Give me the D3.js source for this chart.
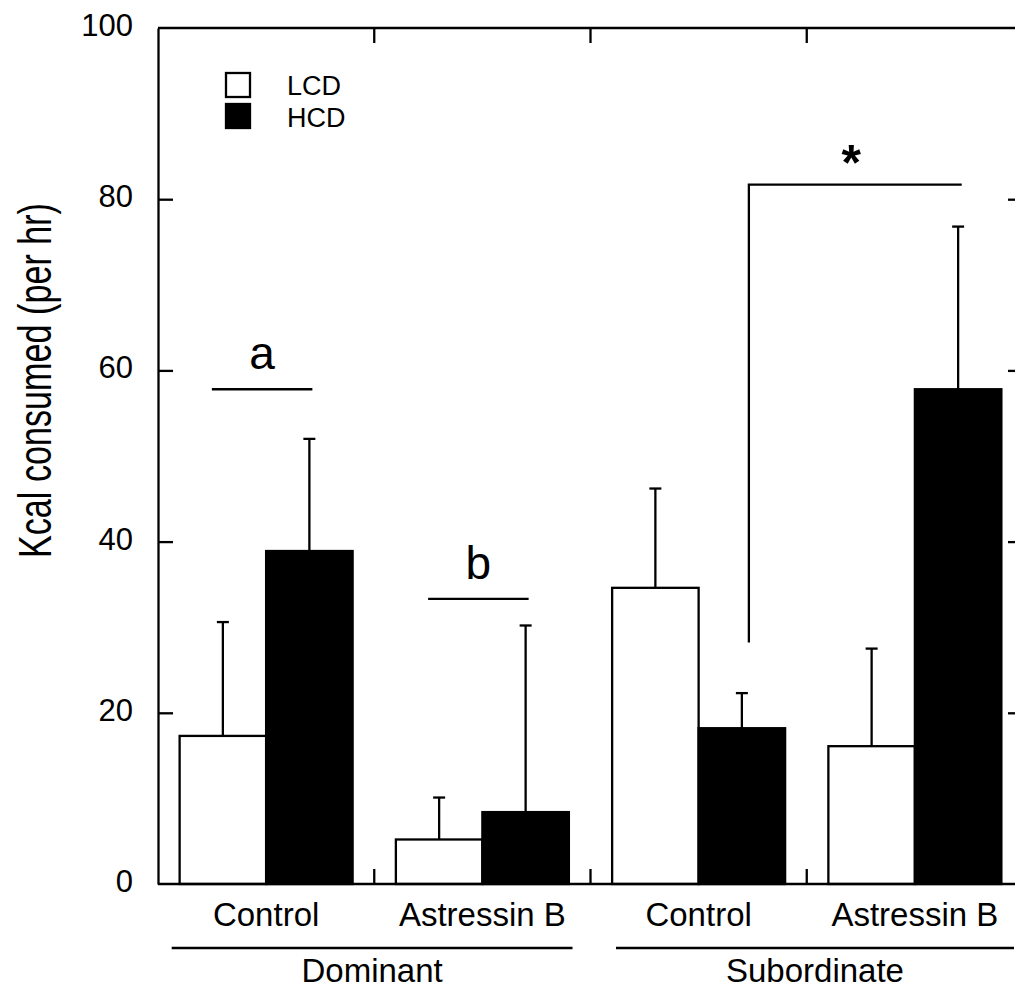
<!DOCTYPE html>
<html>
<head>
<meta charset="utf-8">
<script src="https://cdn.jsdelivr.net/npm/d3@7"></script>
<style>
  html, body { margin: 0; padding: 0; background: #fff; }
  svg { display: block; font-family: "Liberation Sans", Arial, sans-serif; }
</style>
</head>
<body>
<svg id="chart" width="1015" height="990"></svg>
<script>
// ---- data ----
const groups = ["Dominant Control", "Dominant Astressin B", "Subordinate Control", "Subordinate Astressin B"];
const groupLabels = ["Control", "Astressin B", "Control", "Astressin B"];
const parents = ["Dominant", "Subordinate"];
const series = ["LCD", "HCD"];
const lcdMean = [17.3, 5.2, 34.6, 16.1];
const lcdErr  = [13.3, 4.9, 11.6, 11.4];
const hcdMean = [38.9, 8.4, 18.2, 57.8];
const hcdErr  = [13.1, 21.8, 4.1, 19.0];
const yTicks = [0, 20, 40, 60, 80, 100];
// annotations: letter, group index, level
const letterAnn = [{label: "a", group: 0, level: 57.8}, {label: "b", group: 1, level: 33.3}];
const starAnn = {label: "*", from: 2, to: 3, level: 81.7, bottom: 28.2};

(function () {
// ---- layout ----
const svg = d3.select("#chart");
const pLeft = 158, pTop = 28, pRight = 1023, pBottom = 884;
const y = d3.scaleLinear().domain([0, 100]).range([pBottom, pTop]);
const x0 = d3.scaleBand().domain(groups).range([pLeft, pRight]).paddingInner(0).paddingOuter(0);
const x1 = d3.scaleBand().domain(series).range([0, x0.bandwidth()]).paddingInner(0).paddingOuter(0.25);
const fill = {LCD: "#fff", HCD: "#000"};
const SW = 2.3;

const rows = groups.map((g, i) => ({g, i, vals: [
  {s: "LCD", m: lcdMean[i], e: lcdErr[i]},
  {s: "HCD", m: hcdMean[i], e: hcdErr[i]}
]}));

// error bars (upward only), drawn before bars
const eb = svg.append("g");
rows.forEach(r => r.vals.forEach(v => {
  const cx = x0(r.g) + x1(v.s) + x1.bandwidth() / 2;
  eb.append("line").attr("x1", cx).attr("x2", cx)
    .attr("y1", y(v.m)).attr("y2", y(v.m + v.e))
    .attr("stroke", "#000").attr("stroke-width", SW);
  eb.append("line").attr("x1", cx - 6).attr("x2", cx + 6)
    .attr("y1", y(v.m + v.e)).attr("y2", y(v.m + v.e))
    .attr("stroke", "#000").attr("stroke-width", SW);
}));

// bars
const bars = svg.append("g");
rows.forEach(r => r.vals.forEach(v => {
  bars.append("rect")
    .attr("x", x0(r.g) + x1(v.s))
    .attr("y", y(v.m))
    .attr("width", x1.bandwidth())
    .attr("height", y(0) - y(v.m))
    .attr("fill", fill[v.s])
    .attr("stroke", "#000").attr("stroke-width", SW);
}));

// left axis
const yAxis = d3.axisLeft(y).tickValues(yTicks).tickSizeInner(-15).tickSizeOuter(0).tickPadding(25);
const gy = svg.append("g").attr("transform", `translate(${pLeft},0)`).call(yAxis);
gy.selectAll("path, line").attr("stroke", "#000").attr("stroke-width", SW);
gy.selectAll("text").attr("font-size", 31).attr("font-family", "Liberation Sans, Arial, sans-serif")
  .attr("fill", "#000").attr("dy", "7.5");
gy.selectAll(".tick").filter(d => d === 0 || d === 100).select("line").remove();

// right axis (mirrored ticks)
const yAxisR = d3.axisRight(y).tickValues(yTicks.filter(d => d > 0 && d < 100)).tickSizeInner(-15).tickSizeOuter(0).tickFormat("");
const gyr = svg.append("g").attr("transform", `translate(${pRight},0)`).call(yAxisR);
gyr.selectAll("path, line").attr("stroke", "#000").attr("stroke-width", SW);

// bottom & top frames with boundary ticks
const boundaries = groups.slice(1).map(g => x0(g));
const frame = svg.append("g").attr("stroke", "#000").attr("stroke-width", SW);
frame.append("line").attr("x1", pLeft).attr("x2", pRight).attr("y1", pBottom).attr("y2", pBottom);
frame.append("line").attr("x1", pLeft).attr("x2", pRight).attr("y1", pTop).attr("y2", pTop);
boundaries.forEach(bx => {
  frame.append("line").attr("x1", bx).attr("x2", bx).attr("y1", pBottom).attr("y2", pBottom - 15);
  frame.append("line").attr("x1", bx).attr("x2", bx).attr("y1", pTop).attr("y2", pTop + 15);
});

// category labels
const xAxis = d3.axisBottom(x0).tickSize(0).tickPadding(0).tickFormat((d, i) => groupLabels[i]);
const gx = svg.append("g").attr("transform", `translate(0,${pBottom})`).call(xAxis);
gx.select(".domain").remove();
gx.selectAll("text").attr("font-size", 33).attr("font-family", "Liberation Sans, Arial, sans-serif")
  .attr("fill", "#000").attr("y", 42).attr("dy", 0);

// parent group lines & labels
const parentSpans = [
  {label: parents[0], x1: x0(groups[0]) + 13.7, x2: x0(groups[1]) + x0.bandwidth() - 18},
  {label: parents[1], x1: x0(groups[2]) + 25.5, x2: 1014}
];
parentSpans.forEach(p => {
  svg.append("line").attr("x1", p.x1).attr("x2", p.x2).attr("y1", 948).attr("y2", 948)
    .attr("stroke", "#000").attr("stroke-width", SW);
  svg.append("text").attr("x", (p.x1 + p.x2) / 2).attr("y", 982).attr("text-anchor", "middle")
    .attr("font-size", 33).text(p.label);
});

// y label
svg.append("text")
  .attr("transform", `translate(51,${(203 + 558) / 2}) rotate(-90)`)
  .attr("text-anchor", "middle")
  .attr("font-size", 47)
  .attr("textLength", 355).attr("lengthAdjust", "spacingAndGlyphs")
  .text("Kcal consumed (per hr)");

// legend
const legend = svg.append("g");
series.forEach((s, i) => {
  legend.append("rect").attr("x", 226).attr("y", 73 + i * 31).attr("width", 24).attr("height", 24)
    .attr("fill", fill[s]).attr("stroke", "#000").attr("stroke-width", SW);
  legend.append("text").attr("x", 287).attr("y", 95 + i * 31.5).attr("font-size", 27).text(s);
});

// letter annotations
const barCenter = (gi, s) => x0(groups[gi]) + x1(s) + x1.bandwidth() / 2;
letterAnn.forEach(a => {
  const xa = barCenter(a.group, "LCD") - 11, xb = barCenter(a.group, "HCD") + 3;
  svg.append("line").attr("x1", xa).attr("x2", xb).attr("y1", y(a.level)).attr("y2", y(a.level))
    .attr("stroke", "#000").attr("stroke-width", SW);
  svg.append("text").attr("x", (xa + xb) / 2).attr("y", y(a.level) - 20).attr("text-anchor", "middle")
    .attr("font-size", 46).text(a.label);
});

// star bracket
const sx1 = barCenter(starAnn.from, "HCD") + 7, sx2 = barCenter(starAnn.to, "HCD") + 3.6;
svg.append("path")
  .attr("d", `M${sx1},${y(starAnn.bottom)} L${sx1},${y(starAnn.level)} L${sx2},${y(starAnn.level)}`)
  .attr("fill", "none").attr("stroke", "#000").attr("stroke-width", SW);
svg.append("text").attr("x", (sx1 + sx2) / 2 - 4).attr("y", y(starAnn.level) - 5).attr("text-anchor", "middle")
  .attr("font-size", 50).attr("font-weight", "bold").text(starAnn.label);
})();
</script>
</body>
</html>
